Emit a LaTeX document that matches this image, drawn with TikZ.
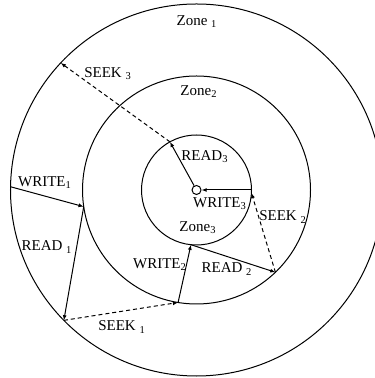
\documentclass[tikz,border=0pt]{standalone}
\usepackage{fontspec}
\setmainfont{Liberation Serif}
\usetikzlibrary{arrows.meta}

\begin{document}
\begin{tikzpicture}[x=0.5pt, y=0.5pt, line width=0.5pt,
    font=\fontsize{7.5}{9}\selectfont,
    op/.style={-{Latex[length=2.6pt,width=2pt]}},
    seekline/.style={op, dash pattern=on 2pt off 1.5pt}]
    \useasboundingbox (-196.5,-188) rectangle (177.5,190);
    \def\ra{186}
    \def\rb{114}
    \def\rc{55}
    \draw (0,0) circle (\ra);
    \draw (0,0) circle (\rb);
    \draw (0,0) circle (\rc);
    \node[circle, draw, inner sep=0pt, minimum size=4.5pt] (hub) at (0,0) {};
    % points on the zones
    \coordinate (w1s) at (179:\ra);
    \coordinate (w1e) at (188.4:\rb);
    \coordinate (r1e) at (224.5:\ra);
    \coordinate (s1e) at (260.7:\rb);
    \coordinate (w2e) at (264.2:\rc);
    \coordinate (r2e) at (313.8:\rb);
    \coordinate (s2e) at (-3:\rc);
    \coordinate (w3s) at (0:\rc);
    \coordinate (r3e) at (118.9:\rc);
    \coordinate (s3e) at (136.9:\ra);
    \draw[op] (w1s) -- (w1e);
    \draw[op] (w1e) -- (r1e);
    \draw[seekline] (r1e) -- (s1e);
    \draw[op] (s1e) -- (w2e);
    \draw[op] (w2e) -- (r2e);
    \draw[seekline] (r2e) -- (s2e);
    \draw[op] (w3s) -- (hub);
    \draw[op] (hub) -- (r3e);
    \draw[seekline] (r3e) -- (s3e);
    % labels
    \node (zone1) at (0.5,168) {Zone \textsubscript{1}};
    \node (zone2) at (2.5,98) {Zone\textsubscript{2}};
    \node (zone3) at (1.5,-38) {Zone\textsubscript{3}};
    \node (seek3) at (-88.5,116) {SEEK \textsubscript{3}};
    \node (read3) at (8.5,33) {READ\textsubscript{3}};
    \node (write3) at (23.5,-14) {WRITE\textsubscript{3}};
    \node (seek2) at (86.5,-27) {SEEK \textsubscript{2}};
    \node (read2) at (30.5,-79) {READ \textsubscript{2}};
    \node (write2) at (-36.5,-75) {WRITE\textsubscript{2}};
    \node (seek1) at (-74.5,-137) {SEEK \textsubscript{1}};
    \node (read1) at (-149.5,-57) {READ \textsubscript{1}};
    \node (write1) at (-151.5,7) {WRITE\textsubscript{1}};
\end{tikzpicture}
\end{document}
